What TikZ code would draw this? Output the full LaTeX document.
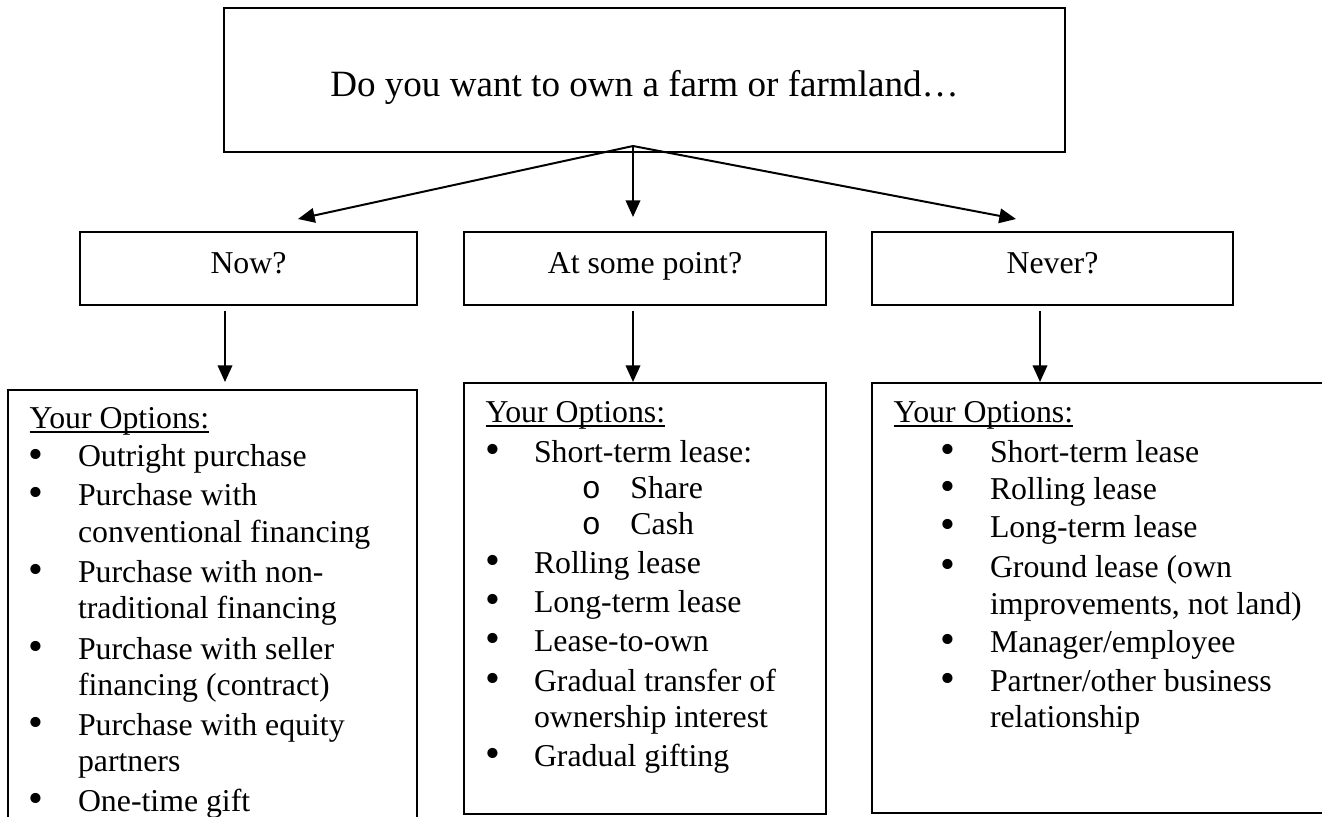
\documentclass[tikz,border=0pt]{standalone}
\usepackage{fontspec}
\setmainfont{Liberation Serif}
\setmonofont{Liberation Mono}
\usetikzlibrary{arrows.meta}

\newsavebox{\ulbox}
\newcommand{\undl}[1]{\sbox{\ulbox}{#1}\rlap{\rule[-1.7pt]{\wd\ulbox}{0.6pt}}\usebox{\ulbox}}
\newcommand{\bigdot}{\smash{\fontsize{16}{16}\selectfont\raisebox{-0.4pt}{\textbullet}}}
\newcommand{\bitem}{\makebox[18.3pt][l]{\hspace*{2.6pt}\makebox[0pt]{\bigdot}}}
\newcommand{\bcont}{\hspace*{18.3pt}}
\newcommand{\oitem}{\makebox[54.7pt][l]{\hspace*{40pt}\makebox[0pt]{\texttt{o}}}}
\newcommand{\ritem}{\makebox[36.4pt][l]{\hspace*{20.4pt}\makebox[0pt]{\bigdot}}}
\newcommand{\rcont}{\hspace*{36.4pt}}

\begin{document}
\begin{tikzpicture}[x=0.37736pt,y=-0.37736pt,
 topbox/.style ={rectangle, draw=black, line width=0.7pt, inner sep=0pt, minimum width=317.4pt, text height=33.55pt, text depth=20.75pt, font=\fontsize{14}{16}\selectfont},
 qbox/.style ={rectangle, draw=black, line width=0.7pt, inner sep=0pt, text height=15.45pt, text depth=12.05pt, font=\fontsize{12}{13.6}\selectfont},
 optbox/.style ={rectangle, draw=black, line width=0.7pt, inner sep=0pt},
 opttext/.style ={anchor=base west, inner sep=0pt, font=\fontsize{12}{13.6}\selectfont},
 arr/.style ={draw, line width=0.75pt, -{Triangle[length=6.3pt,width=5.5pt]}}]

\useasboundingbox (0,0) rectangle (1322,816);
\clip (0,0) rectangle (1322,816);

\draw (644.5,80) node[topbox] (farm) {Do you want to own a farm or farmland…};

\draw (248.5,268.5) node[qbox, minimum width=127.2pt] (now) {Now?};
\draw (645,268.5) node[qbox, minimum width=136.6pt] (later) {At some point?};
\draw (1052.5,268.5) node[qbox, minimum width=136.2pt] (never) {Never?};

\draw (212.5,615) node[optbox, minimum width=154.3pt, minimum height=169.8pt] (opt1) {};
\draw (645,598.5) node[optbox, minimum width=136.6pt, minimum height=162.6pt] (opt2) {};
\draw (1106,598) node[optbox, minimum width=176.6pt, minimum height=162.3pt] (opt3) {};

\draw (29,428) node[opttext] (list1) {\begin{tabular}[t]{@{}l@{}}
\undl{Your Options:}\\[1.1pt]
\bitem Outright purchase\\[1.1pt]
\bitem Purchase with\\[0.3pt]
\bcont conventional financing\\[1.5pt]
\bitem Purchase with non-\\
\bcont traditional financing\\[1.8pt]
\bitem Purchase with seller\\
\bcont financing (contract)\\[1.5pt]
\bitem Purchase with equity\\
\bcont partners\\[1.5pt]
\bitem One-time gift
\end{tabular}};

\draw (485,422) node[opttext] (list2) {\begin{tabular}[t]{@{}l@{}}
\undl{Your Options:}\\[1.5pt]
\bitem Short-term lease:\\
\oitem Share\\[0.3pt]
\oitem Cash\\[1.1pt]
\bitem Rolling lease\\[1.1pt]
\bitem Long-term lease\\[1.1pt]
\bitem Lease-to-own\\[1.5pt]
\bitem Gradual transfer of\\
\bcont ownership interest\\[1.1pt]
\bitem Gradual gifting
\end{tabular}};

\draw (893,422) node[opttext] (list3) {\begin{tabular}[t]{@{}l@{}}
\undl{Your Options:}\\[1.5pt]
\ritem Short-term lease\\[0.7pt]
\ritem Rolling lease\\[0.7pt]
\ritem Long-term lease\\[1.5pt]
\ritem Ground lease (own\\[0.3pt]
\rcont improvements, not land)\\[0.7pt]
\ritem Manager/employee\\[1.1pt]
\ritem Partner/other business\\
\rcont relationship
\end{tabular}};

\coordinate (fork) at (633,146);
\coordinate (tnow) at (298,219);
\coordinate (tlater) at (633,217);
\coordinate (tnever) at (1016,219);
\coordinate (inopt1) at (225,382);
\coordinate (inopt2) at (633,382);
\coordinate (inopt3) at (1040,382);

	\draw [arr] (fork) to (tnow);
	\draw [arr] (fork) to (tlater);
	\draw [arr] (fork) to (tnever);

	\draw [arr, shorten <=1.9pt] (now.south -| inopt1) to (inopt1);
	\draw [arr, shorten <=1.9pt] (later.south -| inopt2) to (inopt2);
	\draw [arr, shorten <=1.9pt] (never.south -| inopt3) to (inopt3);

\end{tikzpicture}
\end{document}
